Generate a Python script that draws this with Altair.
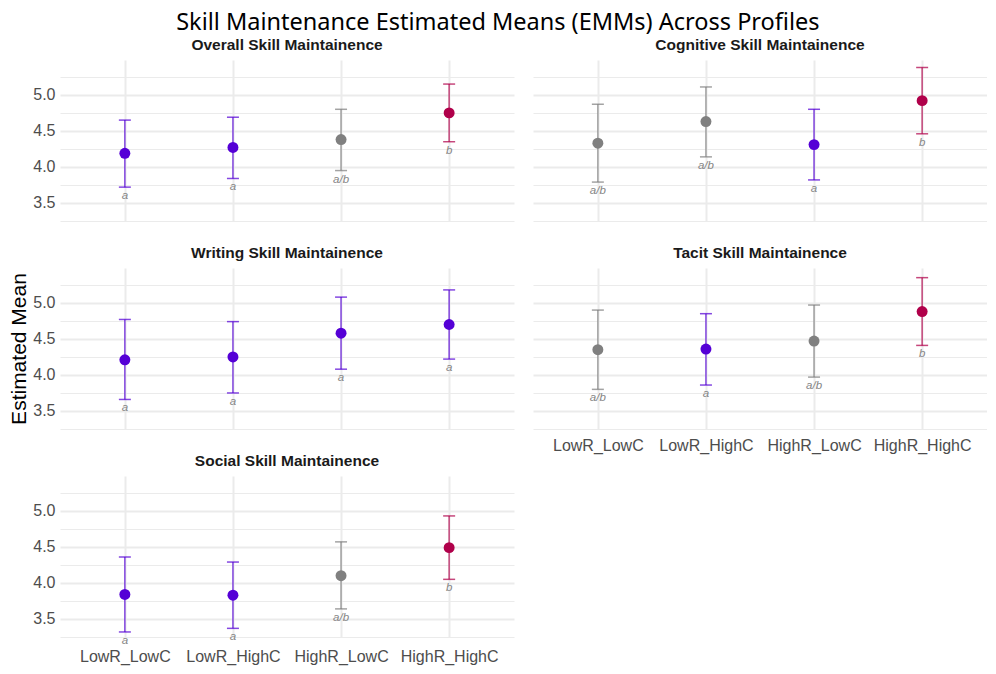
import altair as alt
import pandas as pd

profiles = ["LowR_LowC", "LowR_HighC", "HighR_LowC", "HighR_HighC"]
panel_titles = [
    "Overall Skill Maintainence",
    "Cognitive Skill Maintainence",
    "Writing Skill Maintainence",
    "Tacit Skill Maintainence",
    "Social Skill Maintainence",
]

overall_emm = [4.19, 4.27, 4.38, 4.75]
overall_lower = [3.72, 3.84, 3.95, 4.35]
overall_upper = [4.65, 4.69, 4.80, 5.15]
overall_letters = ["a", "a", "a/b", "b"]

cognitive_emm = [4.33, 4.63, 4.31, 4.92]
cognitive_lower = [3.79, 4.14, 3.82, 4.46]
cognitive_upper = [4.87, 5.11, 4.80, 5.38]
cognitive_letters = ["a/b", "a/b", "a", "b"]

writing_emm = [4.21, 4.25, 4.58, 4.70]
writing_lower = [3.66, 3.75, 4.08, 4.22]
writing_upper = [4.77, 4.74, 5.08, 5.18]
writing_letters = ["a", "a", "a", "a"]

tacit_emm = [4.35, 4.36, 4.47, 4.88]
tacit_lower = [3.80, 3.86, 3.97, 4.41]
tacit_upper = [4.90, 4.85, 4.97, 5.35]
tacit_letters = ["a/b", "a", "a/b", "b"]

social_emm = [3.84, 3.83, 4.10, 4.49]
social_lower = [3.32, 3.37, 3.64, 4.05]
social_upper = [4.36, 4.29, 4.57, 4.93]
social_letters = ["a", "a", "a/b", "b"]

letter_groups = ["a", "a/b", "b"]
group_colors = ["#5500D6", "#808080", "#B0004A"]

y_ticks = [3.25, 3.5, 3.75, 4.0, 4.25, 4.5, 4.75, 5.0, 5.25]
y_domain = [3.25, 5.484]

series = [
    (overall_emm, overall_lower, overall_upper, overall_letters),
    (cognitive_emm, cognitive_lower, cognitive_upper, cognitive_letters),
    (writing_emm, writing_lower, writing_upper, writing_letters),
    (tacit_emm, tacit_lower, tacit_upper, tacit_letters),
    (social_emm, social_lower, social_upper, social_letters),
]

rows = []
for title, (e, lo, up, le) in zip(panel_titles, series):
    for i, p in enumerate(profiles):
        rows.append({"panel": title, "profile": p, "emm": e[i], "lower": lo[i],
                     "upper": up[i], "letter": le[i]})
df = pd.DataFrame(rows)

W = 454
H = 161
AXIS_FONT = "Liberation Sans"


def make_panel(title, show_x_labels, show_y_labels, y_title, label_pad=8):
    base = alt.Chart(df).transform_filter(alt.datum.panel == title)
    x_label_expr = "datum.label" if show_x_labels else "' '"
    xenc = alt.X(
        "profile:N", sort=profiles,
        scale=alt.Scale(type="point", domain=profiles, padding=0.6),
        axis=alt.Axis(title=None, grid=True, gridColor="#EBEBEB", gridWidth=2,
                      domain=False, ticks=False, labelFont=AXIS_FONT,
                      labelFontSize=16, labelColor="#4D4D4D", labelPadding=label_pad,
                      labelAngle=0, labelExpr=x_label_expr),
    )
    yscale = alt.Scale(domain=y_domain, nice=False, zero=False)
    axis_kwargs = dict(
        values=y_ticks, grid=True, gridColor="#EBEBEB",
        gridWidth={"condition": {"test": "(datum.value * 4) % 2 == 0", "value": 2}, "value": 1},
        domain=False, ticks=False, labels=show_y_labels,
        labelExpr="(datum.value * 4) % 2 == 0 ? format(datum.value, '.1f') : ''",
        labelFont=AXIS_FONT, labelFontSize=16, labelColor="#4D4D4D", labelPadding=5,
        titleFont=AXIS_FONT, titleFontSize=21, titleFontWeight="normal",
        titleColor="black", titlePadding=3,
    )
    if y_title:
        yaxis = alt.Axis(title=y_title, **axis_kwargs)
    else:
        yaxis = alt.Axis(title=None, **axis_kwargs)
    color = alt.Color("letter:N", scale=alt.Scale(domain=letter_groups, range=group_colors),
                      legend=None)

    rules = base.mark_rule(strokeWidth=1.5, opacity=0.72).encode(
        x=xenc, y=alt.Y("lower:Q", scale=yscale, axis=yaxis), y2="upper:Q", color=color)
    caps = base.transform_fold(["lower", "upper"], as_=["end", "val"]).mark_tick(
        size=12, thickness=1.5, opacity=0.72).encode(
        x=xenc, y=alt.Y("val:Q", scale=yscale, axis=yaxis), color=color)
    points = base.mark_circle(size=120, opacity=1).encode(
        x=xenc, y=alt.Y("emm:Q", scale=yscale, axis=yaxis), color=color)
    text = base.mark_text(baseline="top", dy=3, fontSize=11.5, fontStyle="italic",
                          color="#858585", font=AXIS_FONT).encode(
        x=xenc, y=alt.Y("lower:Q", scale=yscale, axis=yaxis), text="letter:N")

    return alt.layer(rules, caps, points, text).properties(
        width=W, height=H,
        title=alt.TitleParams(title, font=AXIS_FONT, fontSize=15.5, fontWeight="bold",
                              color="#1A1A1A", anchor="middle", offset=7),
    )


p1 = make_panel(panel_titles[0], False, True, None)
p2 = make_panel(panel_titles[1], False, False, None)
p3 = make_panel(panel_titles[2], False, True, "Estimated Mean")
p4 = make_panel(panel_titles[3], True, False, None)
p5 = make_panel(panel_titles[4], True, True, None, label_pad=11)

chart = alt.concat(p1, p2, p3, p4, p5, columns=2, spacing={"row": 0, "column": 19}).properties(
    title=alt.TitleParams("Skill Maintenance Estimated Means (EMMs) Across Profiles",
                          font="Noto Sans", fontSize=23.5, fontWeight="normal",
                          color="black", anchor="middle", offset=3),
    padding={"top": 3, "left": 0, "right": 0, "bottom": 2},
).configure(background="white", view=alt.ViewConfig(stroke=None))

chart.save("out.html", embed_options={"renderer": "svg", "actions": False})
